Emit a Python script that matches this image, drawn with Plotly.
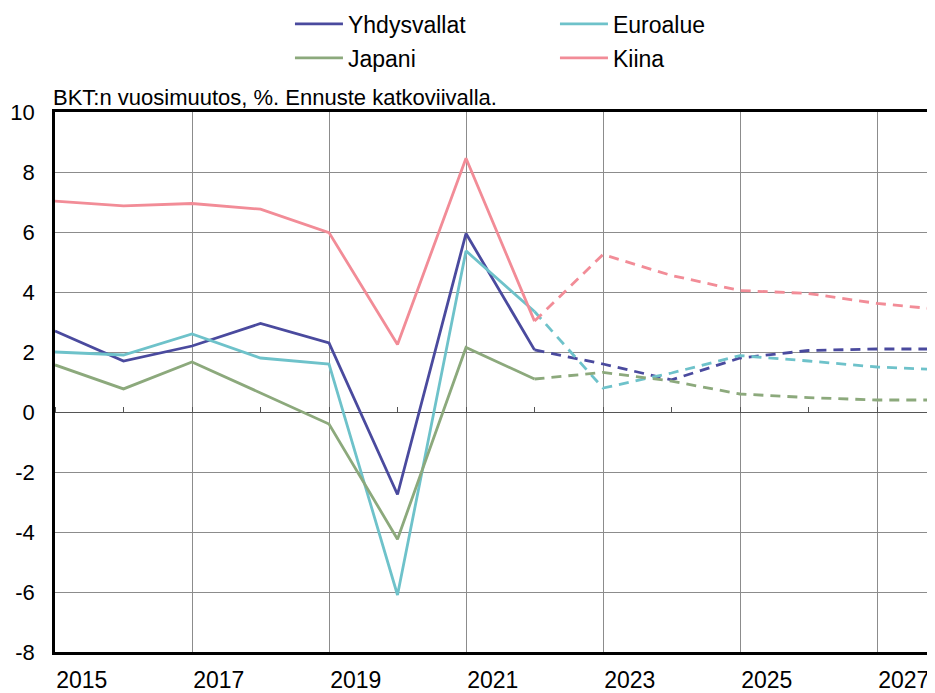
import plotly.graph_objects as go

years = list(range(2015, 2029))
hist_end = 2022

us = [2.7, 1.7, 2.2, 2.95, 2.3, -2.75, 5.95, 2.07, 1.6, 1.07, 1.8, 2.05, 2.1, 2.1]
euro = [2.0, 1.9, 2.6, 1.8, 1.6, -6.1, 5.37, 3.35, 0.8, 1.3, 1.88, 1.7, 1.5, 1.4]
japan = [1.57, 0.77, 1.67, 0.64, -0.4, -4.24, 2.15, 1.1, 1.32, 1.03, 0.6, 0.48, 0.4, 0.4]
china = [7.03, 6.87, 6.95, 6.76, 5.98, 2.25, 8.46, 3.03, 5.25, 4.55, 4.05, 3.95, 3.62, 3.4]

names = ["Yhdysvallat", "Euroalue", "Japani", "Kiina"]
series = [us, euro, japan, china]
colors = ["#4A4A9E", "#6EC2CA", "#8CA97C", "#F28C97"]
legends = ["legend", "legend", "legend2", "legend2"]

title_text = "BKT:n vuosimuutos, %. Ennuste katkoviivalla."
y_ticks = list(range(-8, 11, 2))
y_ticktext = [str(v) for v in y_ticks]  # plain hyphen minus signs
x_ticks = list(range(2015, 2029, 2))

FONT = "Liberation Sans, Arial, sans-serif"

fig = go.Figure()
cut = years.index(hist_end)
# forecast (dashed) drawn first
for name, vals, col, lg in zip(names, series, colors, legends):
    fig.add_trace(go.Scatter(
        x=years[cut:], y=vals[cut:], mode="lines", name=name,
        line=dict(color=col, width=2.8, dash="10px,7px"),
        legendgroup=name, showlegend=False, hoverinfo="x+y"))
for name, vals, col, lg in zip(names, series, colors, legends):
    fig.add_trace(go.Scatter(
        x=years[:cut + 1], y=vals[:cut + 1], mode="lines", name=name,
        line=dict(color=col, width=2.8),
        legendgroup=name, legend=lg, showlegend=True, hoverinfo="x+y"))

# helper trace for the tick axis on the zero line
fig.add_trace(go.Scatter(x=years, y=[0] * len(years), xaxis="x2", mode="lines",
                         line=dict(width=0), hoverinfo="skip", showlegend=False))

x_range = [2015, 2015 + 880 / 68.5]

fig.update_layout(
    width=935, height=693,
    margin=dict(l=47, r=8, t=104, b=49, autoexpand=False),
    paper_bgcolor="white", plot_bgcolor="white",
    font=dict(family=FONT, size=22, color="black"),
    xaxis=dict(
        range=x_range, tickmode="array", tickvals=x_ticks,
        ticktext=[str(v) for v in x_ticks],
        ticklabelposition="outside right",
        showgrid=True, gridcolor="#8c8c8c", gridwidth=1,
        showline=True, linecolor="black", linewidth=2.5, mirror=True,
        ticks="", tickfont=dict(size=23), ticklabelstandoff=6,
        zeroline=False, automargin=False,
    ),
    xaxis2=dict(
        range=x_range, overlaying="x", anchor="free", position=8 / 18,
        side="top", dtick=1, tick0=2015, ticks="outside", ticklen=5,
        tickcolor="#555555", tickwidth=1, showticklabels=False,
        showgrid=False, showline=False, zeroline=False,
    ),
    yaxis=dict(
        range=[-8, 10], tickmode="array", tickvals=y_ticks, ticktext=y_ticktext,
        showgrid=True, gridcolor="#8c8c8c", gridwidth=1,
        zeroline=True, zerolinecolor="#555555", zerolinewidth=1,
        showline=True, linecolor="black", linewidth=2.5, mirror=False,
        ticks="", tickfont=dict(size=22), ticklabelstandoff=13,
        automargin=False,
    ),
    legend=dict(
        orientation="h", x=0.267, xanchor="left", y=1.163, yanchor="middle",
        font=dict(size=23), entrywidth=202, itemwidth=48,
        bgcolor="rgba(0,0,0,0)", tracegroupgap=0,
    ),
    legend2=dict(
        orientation="h", x=0.267, xanchor="left", y=1.100, yanchor="middle",
        font=dict(size=23), entrywidth=202, itemwidth=48,
        bgcolor="rgba(0,0,0,0)", tracegroupgap=0,
    ),
    annotations=[dict(
        text=title_text, xref="paper", yref="paper", x=-0.004, y=1,
        xanchor="left", yanchor="bottom", showarrow=False,
        font=dict(size=22, family=FONT, color="black"), yshift=0,
    )],
)

fig.write_html("out.html")
